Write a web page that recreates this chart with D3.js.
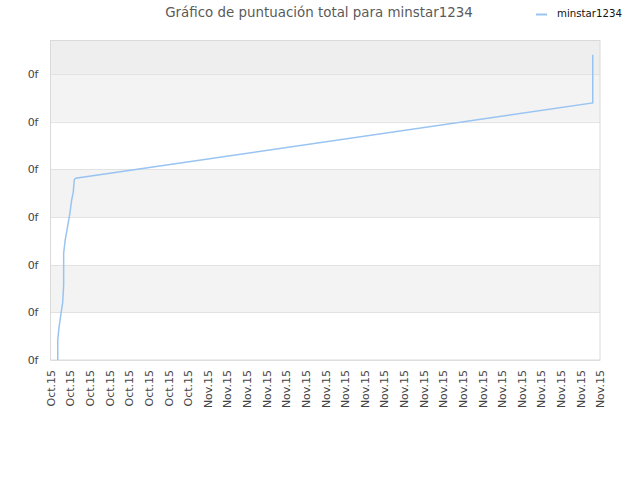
<!DOCTYPE html>
<html>
<head>
<meta charset="utf-8">
<script src="https://cdn.jsdelivr.net/npm/d3@7"></script>
<style>
  body { margin: 0; background: #fff; }
  text { font-family: "DejaVu Sans", Verdana, sans-serif; }
</style>
</head>
<body>
<div id="body"></div>
<script>
// tick labels
let xTickLabels = ["Oct.15", "Oct.15", "Oct.15", "Oct.15", "Oct.15", "Oct.15", "Oct.15", "Oct.15",
  "Nov.15", "Nov.15", "Nov.15", "Nov.15", "Nov.15", "Nov.15", "Nov.15", "Nov.15", "Nov.15",
  "Nov.15", "Nov.15", "Nov.15", "Nov.15", "Nov.15", "Nov.15", "Nov.15", "Nov.15", "Nov.15",
  "Nov.15", "Nov.15", "Nov.15"]
let yTickValues = [0, 1, 2, 3, 4, 5, 6]
let yTickLabels = ["0f", "0f", "0f", "0f", "0f", "0f", "0f"]

// series (x in tick units, y in grid units)
let seriesName = "minstar1234"
let seriesX = [0.37, 0.37, 0.43, 0.54, 0.62, 0.67, 0.67, 0.75, 0.84, 0.99, 1.08, 1.16, 1.21, 1.28, 27.63, 27.63]
let seriesY = [0, 0.42, 0.67, 0.99, 1.20, 1.57, 2.24, 2.52, 2.73, 3.08, 3.36, 3.52, 3.78, 3.81, 5.39, 6.40]

let margin = { top: 40, right: 40, bottom: 120, left: 50.5 },
  width = 640 - margin.left - margin.right,
  height = 480 - margin.top - margin.bottom;

let root = d3.select("#body")
  .append("svg")
  .attr("width", 640)
  .attr("height", 480)

let svg = root.append("g")
  .attr("transform", "translate(" + margin.left + "," + margin.top + ")");

let x = d3.scaleLinear()
  .domain([0, xTickLabels.length - 1])
  .range([0, width]);

let y = d3.scaleLinear()
  .domain([0, 6.71])
  .range([height, 0]);

// background bands
let bands = yTickValues.map(function (v, i) {
  let top = i + 1 < yTickValues.length ? yTickValues[i + 1] : y.domain()[1]
  return { lo: v, hi: top, i: i }
})
svg.selectAll("rect.band")
  .data(bands)
  .enter()
  .append("rect")
  .attr("class", "band")
  .attr("x", 0)
  .attr("width", width)
  .attr("y", function (d) { return y(d.hi) })
  .attr("height", function (d) { return y(d.lo) - y(d.hi) })
  .style("fill", function (d) {
    if (d.i === bands.length - 1) return "#eeeeee"
    return d.i % 2 === 1 ? "#f3f3f3" : "#ffffff"
  })

// grid lines
svg.selectAll("line.grid")
  .data(yTickValues)
  .enter()
  .append("line")
  .attr("x1", 0)
  .attr("x2", width)
  .attr("y1", function (d) { return Math.round(y(d)) + 0.5 })
  .attr("y2", function (d) { return Math.round(y(d)) + 0.5 })
  .style("stroke", "#e2e2e2")

// frame
svg.append("rect")
  .attr("x", 0)
  .attr("y", 0.5)
  .attr("width", width)
  .attr("height", height - 0.5)
  .style("fill", "none")
  .style("stroke", "#dadada")

// Y axis
let yAxis = svg.append("g")
  .call(d3.axisLeft(y)
    .tickValues(yTickValues)
    .tickSize(0)
    .tickPadding(12)
    .tickFormat(function (d, i) { return yTickLabels[i] }))
yAxis.select(".domain").remove()
yAxis.selectAll("text")
  .style("font-size", "11px")
  .style("fill", "#444")
  .style("font-family", "'DejaVu Sans', sans-serif")

// X axis
let xAxis = svg.append("g")
  .attr("transform", "translate(0," + height + ")")
  .call(d3.axisBottom(x)
    .tickValues(d3.range(xTickLabels.length))
    .tickSize(0)
    .tickPadding(0)
    .tickFormat(function (d) { return xTickLabels[d] }))
xAxis.select(".domain").remove()
xAxis.selectAll("text")
  .attr("transform", "rotate(-90)")
  .attr("x", -10)
  .attr("y", 0)
  .attr("dy", "0.35em")
  .style("text-anchor", "end")
  .style("font-size", "11px")
  .style("fill", "#444")
  .style("font-family", "'DejaVu Sans', sans-serif")

// the line
let points = seriesX.map(function (d, i) { return { x: d, y: seriesY[i] } })
svg.append("path")
  .datum(points)
  .attr("d", d3.line()
    .x(function (d) { return x(d.x) })
    .y(function (d) { return y(d.y) }))
  .style("fill", "none")
  .style("stroke", "#99c4f2")
  .style("stroke-width", 1.5)

// title
root.append("text")
  .attr("x", 319)
  .attr("y", 17)
  .attr("text-anchor", "middle")
  .style("font-size", "13.4px")
  .style("fill", "#5a5a5a")
  .text("Gráfico de puntuación total para minstar1234")

// legend
root.append("line")
  .attr("x1", 536)
  .attr("x2", 547)
  .attr("y1", 14.5)
  .attr("y2", 14.5)
  .style("stroke", "#99c4f2")
  .style("stroke-width", 2)
root.append("text")
  .attr("x", 557)
  .attr("y", 17)
  .style("font-size", "10.2px")
  .style("fill", "#111")
  .text(seriesName)
</script>
</body>
</html>
